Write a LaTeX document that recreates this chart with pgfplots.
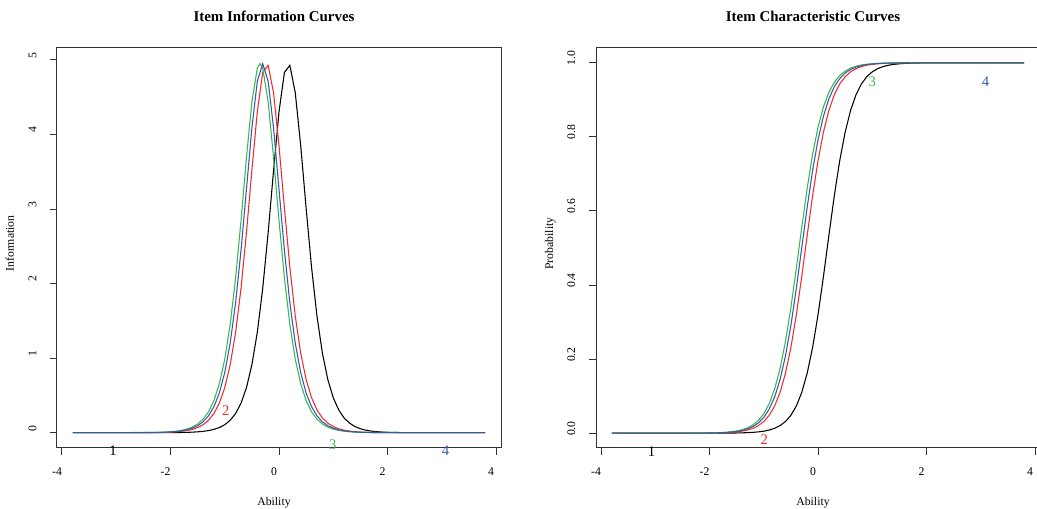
\documentclass[border=0pt]{standalone}
\usepackage{fontspec}
\setmainfont{Liberation Serif}
\usepackage{pgfplots}
\pgfplotsset{compat=1.18}
\definecolor{rred}{HTML}{F42A2A}
\definecolor{rgreen}{HTML}{3DB54A}
\definecolor{rblue}{HTML}{2E5EAA}
\newcommand{\fs}{\fontsize{8.8}{10}\selectfont}
\newcommand{\ft}{\fontsize{11.2}{13}\selectfont\bfseries}
\newcommand{\fd}{\fontsize{11}{13}\selectfont}
\pgfplotsset{rstyle/.style={
  scale only axis, width=333pt, height=300pt,
  xmin=-4.092, xmax=4.092,
  axis line style={black!80, line width=0.75pt},
  tick style={black!80, line width=0.75pt},
  tick align=outside, major tick length=5.25pt,
  xtick pos=left, ytick pos=left,
  xtick={-4,-2,0,2,4}, xticklabels={-4,-2,0,2,4},
  xticklabel style={anchor=north, inner sep=0pt, font=\fs, xshift=-3.75pt},
  xticklabel shift=9.5pt,
  yticklabel style={yshift=3.4pt, rotate=90, anchor=south, inner sep=0pt, font=\fs},
  yticklabel shift=10pt,
  clip=false,
  every axis plot/.append style={line width=0.8pt, no markers},
}}
\begin{document}
\begin{tikzpicture}
% ---------------- left: information ----------------
\begin{axis}[rstyle, at={(42.75pt,45.75pt)}, anchor=south west,
  ymin=-0.205, ymax=5.16, ytick={0,1,2,3,4,5}, yticklabels={0,1,2,3,4,5}]
\addplot[black] coordinates {(-3.8,0) (-1.9,0.0020) (-1.8,0.0031) (-1.7,0.0048) (-1.6,0.0075) (-1.5,0.0117) (-1.4,0.0182) (-1.3,0.0285) (-1.2,0.0444) (-1.1,0.0693) (-1.0,0.107) (-0.9,0.167) (-0.8,0.257) (-0.7,0.396) (-0.6,0.604) (-0.5,0.910) (-0.4,1.345) (-0.3,1.937) (-0.2,2.683) (-0.1,3.519) (0.0,4.304) (0.1,4.832) (0.2,4.928) (0.3,4.558) (0.4,3.851) (0.5,3.013) (0.6,2.219) (0.7,1.563) (0.8,1.066) (0.9,0.713) (1.0,0.469) (1.1,0.306) (1.2,0.198) (1.3,0.128) (1.4,0.0827) (1.5,0.0531) (1.6,0.0341) (1.7,0.0218) (1.8,0.0140) (1.9,0.0090) (2.0,0.0057) (2.1,0.0037) (2.2,0.0024) (3.8,0)};
\addplot[rred] coordinates {(-3.8,0) (-2.3,0.0020) (-2.2,0.0031) (-2.1,0.0048) (-2.0,0.0075) (-1.9,0.0117) (-1.8,0.0182) (-1.7,0.0285) (-1.6,0.0444) (-1.5,0.0693) (-1.4,0.107) (-1.3,0.167) (-1.2,0.257) (-1.1,0.396) (-1.0,0.604) (-0.9,0.910) (-0.8,1.345) (-0.7,1.937) (-0.6,2.683) (-0.5,3.519) (-0.4,4.304) (-0.3,4.832) (-0.2,4.928) (-0.1,4.558) (0.0,3.851) (0.1,3.013) (0.2,2.219) (0.3,1.563) (0.4,1.066) (0.5,0.713) (0.6,0.469) (0.7,0.306) (0.8,0.198) (0.9,0.128) (1.0,0.0827) (1.1,0.0531) (1.2,0.0341) (1.3,0.0218) (1.4,0.0140) (1.5,0.0090) (1.6,0.0057) (1.7,0.0037) (1.8,0.0024) (3.8,0)};
\addplot[rgreen] coordinates {(-3.8,0) (-2.3,0.0034) (-2.2,0.0053) (-2.1,0.0082) (-2.0,0.0128) (-1.9,0.0200) (-1.8,0.0311) (-1.7,0.0485) (-1.6,0.0757) (-1.5,0.117) (-1.4,0.182) (-1.3,0.280) (-1.2,0.431) (-1.1,0.656) (-1.0,0.985) (-0.9,1.451) (-0.8,2.074) (-0.7,2.846) (-0.6,3.687) (-0.5,4.437) (-0.4,4.889) (-0.35,4.950) (-0.3,4.889) (-0.2,4.437) (-0.1,3.687) (0.0,2.846) (0.1,2.074) (0.2,1.451) (0.3,0.985) (0.4,0.656) (0.5,0.431) (0.6,0.280) (0.7,0.182) (0.8,0.117) (0.9,0.0757) (1.0,0.0485) (1.1,0.0311) (1.2,0.0200) (1.3,0.0128) (1.4,0.0082) (1.5,0.0053) (1.6,0.0034) (3.8,0)};
\addplot[rblue] coordinates {(-3.8,0) (-2.3,0.0027) (-2.2,0.0042) (-2.1,0.0066) (-2.0,0.0103) (-1.9,0.0160) (-1.8,0.0250) (-1.7,0.0390) (-1.6,0.0604) (-1.5,0.094) (-1.4,0.146) (-1.3,0.226) (-1.2,0.348) (-1.1,0.532) (-1.0,0.806) (-0.9,1.200) (-0.8,1.742) (-0.7,2.445) (-0.6,3.265) (-0.5,4.086) (-0.4,4.713) (-0.3,4.950) (-0.2,4.713) (-0.1,4.086) (0.0,3.265) (0.1,2.445) (0.2,1.742) (0.3,1.200) (0.4,0.806) (0.5,0.532) (0.6,0.348) (0.7,0.226) (0.8,0.146) (0.9,0.094) (1.0,0.0604) (1.1,0.0390) (1.2,0.0250) (1.3,0.0160) (1.4,0.0103) (1.5,0.0066) (1.6,0.0042) (1.7,0.0027) (3.8,0)};
\node[font=\fd, text=black, inner sep=0pt] at (axis cs:-3.06,-0.245) {1};
\node[font=\fd, text=rred, inner sep=0pt] at (axis cs:-0.98,0.30) {2};
\node[font=\fd, text=rgreen, inner sep=0pt] at (axis cs:0.99,-0.165) {3};
\node[font=\fd, text=rblue, inner sep=0pt] at (axis cs:3.07,-0.245) {4};
\node[font=\ft, anchor=base] at ([xshift=-3.75pt, yshift=19.7pt]rel axis cs:0.5,1) {Item Information Curves};
\node[font=\fs, anchor=base] at ([xshift=-3.75pt, yshift=-43.5pt]rel axis cs:0.5,0) {Ability};
\node[font=\fs, anchor=base, rotate=90] at ([xshift=-32.25pt, yshift=3.4pt]rel axis cs:0,0.5) {Information};
\end{axis}
% ---------------- right: ICC ----------------
\begin{axis}[rstyle, at={(447pt,45.75pt)}, anchor=south west,
  ymin=-0.04, ymax=1.04, ytick={0,0.2,0.4,0.6,0.8,1}, yticklabels={0.0,0.2,0.4,0.6,0.8,1.0}]
\addplot[black] coordinates {(-3.8,0) (-1.9,0.0001) (-1.8,0.00016) (-1.7,0.00024) (-1.6,0.00038) (-1.5,0.00059) (-1.4,0.00092) (-1.3,0.00144) (-1.2,0.00224) (-1.1,0.0035) (-1.0,0.00545) (-0.9,0.00848) (-0.8,0.01316) (-0.7,0.0204) (-0.6,0.03148) (-0.5,0.0483) (-0.4,0.0733) (-0.3,0.1099) (-0.2,0.1616) (-0.1,0.2312) (0.0,0.3194) (0.1,0.4227) (0.2,0.5333) (0.3,0.6407) (0.4,0.7356) (0.5,0.8128) (0.6,0.8714) (0.7,0.9136) (0.8,0.9429) (0.9,0.9626) (1.0,0.9757) (1.1,0.9843) (1.2,0.9899) (1.3,0.9935) (1.4,0.9958) (1.5,0.9973) (1.6,0.9983) (1.7,0.9989) (1.8,0.9993) (1.9,0.9996) (2.0,0.9997) (2.2,0.9999) (3.8,1)};
\addplot[rred] coordinates {(-3.8,0) (-2.3,0.0001) (-2.2,0.00016) (-2.1,0.00024) (-2.0,0.00038) (-1.9,0.00059) (-1.8,0.00092) (-1.7,0.00144) (-1.6,0.00224) (-1.5,0.0035) (-1.4,0.00545) (-1.3,0.00848) (-1.2,0.01316) (-1.1,0.0204) (-1.0,0.03148) (-0.9,0.0483) (-0.8,0.0733) (-0.7,0.1099) (-0.6,0.1616) (-0.5,0.2312) (-0.4,0.3194) (-0.3,0.4227) (-0.2,0.5333) (-0.1,0.6407) (0.0,0.7356) (0.1,0.8128) (0.2,0.8714) (0.3,0.9136) (0.4,0.9429) (0.5,0.9626) (0.6,0.9757) (0.7,0.9843) (0.8,0.9899) (0.9,0.9935) (1.0,0.9958) (1.1,0.9973) (1.2,0.9983) (1.3,0.9989) (1.4,0.9993) (1.5,0.9996) (1.6,0.9997) (1.8,0.9999) (3.8,1)};
\addplot[rgreen] coordinates {(-3.8,0) (-2.3,0.00017) (-2.2,0.00027) (-2.1,0.00042) (-2.0,0.00065) (-1.9,0.00101) (-1.8,0.00157) (-1.7,0.00245) (-1.6,0.00382) (-1.5,0.00595) (-1.4,0.00926) (-1.3,0.01437) (-1.2,0.02225) (-1.1,0.0343) (-1.0,0.0525) (-0.9,0.0796) (-0.8,0.1189) (-0.7,0.1740) (-0.6,0.2474) (-0.5,0.3391) (-0.4,0.4446) (-0.3,0.5554) (-0.2,0.6609) (-0.1,0.7526) (0.0,0.8260) (0.1,0.8811) (0.2,0.9204) (0.3,0.9475) (0.4,0.9657) (0.5,0.97775) (0.6,0.98563) (0.7,0.99074) (0.8,0.99405) (0.9,0.99618) (1.0,0.99755) (1.1,0.99843) (1.2,0.99899) (1.3,0.99935) (1.4,0.99959) (1.5,0.99973) (1.6,0.99983) (3.8,1)};
\addplot[rblue] coordinates {(-3.8,0) (-2.3,0.00014) (-2.2,0.00021) (-2.1,0.00033) (-2.0,0.00052) (-1.9,0.00081) (-1.8,0.00126) (-1.7,0.00197) (-1.6,0.00306) (-1.5,0.00477) (-1.4,0.00743) (-1.3,0.01154) (-1.2,0.01789) (-1.1,0.02764) (-1.0,0.0425) (-0.9,0.0648) (-0.8,0.0975) (-0.7,0.1443) (-0.6,0.2083) (-0.5,0.2911) (-0.4,0.3905) (-0.3,0.5) (-0.2,0.6095) (-0.1,0.7089) (0.0,0.7917) (0.1,0.8557) (0.2,0.9025) (0.3,0.9352) (0.4,0.9575) (0.5,0.97236) (0.6,0.98211) (0.7,0.98846) (0.8,0.99257) (0.9,0.99523) (1.0,0.99694) (1.1,0.99803) (1.2,0.99874) (1.3,0.99919) (1.4,0.99948) (1.5,0.99967) (1.6,0.99979) (1.7,0.99986) (3.8,1)};
\node[font=\fd, text=black, inner sep=0pt] at (axis cs:-3.07,-0.049) {1};
\node[font=\fd, text=rred, inner sep=0pt] at (axis cs:-0.99,-0.018) {2};
\node[font=\fd, text=rgreen, inner sep=0pt] at (axis cs:1.0,0.949) {3};
\node[font=\fd, text=rblue, inner sep=0pt] at (axis cs:3.09,0.949) {4};
\node[font=\ft, anchor=base] at ([xshift=-3.75pt, yshift=19.7pt]rel axis cs:0.5,1) {Item Characteristic Curves};
\node[font=\fs, anchor=base] at ([xshift=-3.75pt, yshift=-43.5pt]rel axis cs:0.5,0) {Ability};
\node[font=\fs, anchor=base, rotate=90] at ([xshift=-32.25pt, yshift=3.4pt]rel axis cs:0,0.5) {Probability};
\end{axis}
\pgfresetboundingbox
\useasboundingbox (0,0) rectangle (777.75pt,381.75pt);
\end{tikzpicture}
\end{document}
